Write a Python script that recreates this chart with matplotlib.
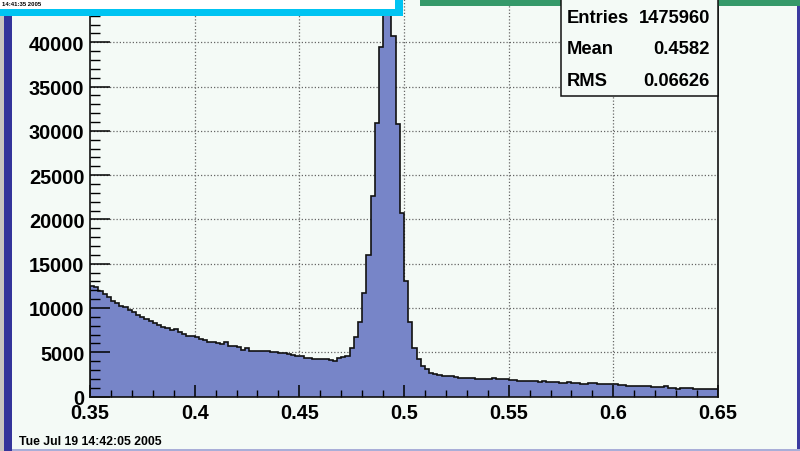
import numpy as np
import matplotlib
matplotlib.use("Agg")
import matplotlib.pyplot as plt
from matplotlib.patches import Rectangle
from matplotlib.ticker import MultipleLocator, FixedLocator, FixedFormatter

# ---------------- data ----------------
x_min, x_max, n_bins = 0.35, 0.65, 150
counts = [
    12460, 12350, 11960, 11590, 11220, 10840, 10575, 10270, 10160, 9820,
    9550, 9250, 8960, 8770, 8510, 8320, 8090, 7830, 7750, 7560,
    7640, 7340, 7080, 6880, 6820, 6700, 6510, 6400, 6210,
    6150, 6070, 5950, 6100, 5750, 5690, 5575, 5300, 5460, 5190,
    5190, 5170, 5120, 5110, 4990, 4970, 4950, 4900, 4800, 4710,
    4560, 4550, 4400, 4300, 4290, 4280, 4250, 4180, 4150, 4050,
    4350, 4450, 4630,
    5460, 6700, 8400, 11670, 16030, 22620, 30930, 39430,
    52500, 53500,
    40750, 30780, 20730, 13090, 8400, 5460, 4250,
    3430, 3050, 2670, 2530, 2390, 2370, 2350, 2270, 2250, 2130,
    2110, 2110, 2100, 2010, 2000, 1990, 1920, 2080, 1940, 1930,
    1920, 1910, 1900, 1790, 1780, 1770, 1760, 1750, 1630, 1770,
    1670, 1660, 1650, 1560, 1550,
    1620, 1560, 1550, 1410, 1400, 1510, 1500, 1410, 1400, 1400,
    1390, 1380, 1350, 1250, 1240, 1240, 1230, 1140, 1130, 1130,
    1120, 1120, 1060, 1130, 990, 980, 835, 960, 950, 940,
    850, 840, 840, 835, 830, 830,
]
x_ticks = [0.35, 0.40, 0.45, 0.50, 0.55, 0.60, 0.65]
x_tick_labels = ["0.35", "0.4", "0.45", "0.5", "0.55", "0.6", "0.65"]
y_ticks = [0, 5000, 10000, 15000, 20000, 25000, 30000, 35000, 40000]
y_tick_labels = ["0", "5000", "10000", "15000", "20000", "25000", "30000", "35000", "40000"]
stats_names = ["Entries", "Mean", "RMS"]
stats_values = ["1475960", "0.4582", "0.06626"]
date_text = "Tue Jul 19 14:42:05 2005"
old_date_text = "14:41:35 2005"

# ---------------- style ----------------
W, H = 800, 452
bg = "#f4faf6"
fill_col = "#7785c8"
font = "Liberation Sans"

fig = plt.figure(figsize=(W / 100, H / 100), dpi=100, facecolor=bg)

def fx(px):
    return px / W

def fy(py):
    return 1 - py / H

# axes: x from 90 to 718 px, y=0 at 397.5 px, 8.855 px per 1000 counts
y_top_val = 56000
ax_left, ax_right, ax_bottom_px = 90, 718, 397.5
ax_h_px = y_top_val * 8.855 / 1000
ax = fig.add_axes([fx(ax_left), fy(ax_bottom_px), (ax_right - ax_left) / W, ax_h_px / H])
ax.set_facecolor(bg)

edges = np.linspace(x_min, x_max, n_bins + 1)
ax.stairs(counts, edges, fill=True, facecolor=fill_col, edgecolor="none", zorder=1)
ax.stairs(counts, edges, fill=False, color="#111111", linewidth=1.2, zorder=1.2)

ax.set_xlim(x_min, x_max)
ax.set_ylim(0, y_top_val)

# grid (behind histogram)
for xv in x_ticks[1:-1]:
    ax.axvline(xv, color="#666666", linestyle=(0, (1, 1.6)), linewidth=0.9, zorder=0.5)
for yv in y_ticks[1:]:
    ax.axhline(yv, color="#666666", linestyle=(0, (1, 1.6)), linewidth=0.9, zorder=0.5)

ax.xaxis.set_major_locator(FixedLocator(x_ticks))
ax.xaxis.set_major_formatter(FixedFormatter(x_tick_labels))
ax.xaxis.set_minor_locator(MultipleLocator(0.01))
ax.yaxis.set_major_locator(FixedLocator(y_ticks))
ax.yaxis.set_major_formatter(FixedFormatter(y_tick_labels))
ax.yaxis.set_minor_locator(MultipleLocator(1000))

ax.tick_params(axis="x", which="major", direction="in", length=9, width=1.1, pad=5,
               labelsize=14.3, top=False)
ax.tick_params(axis="x", which="minor", direction="in", length=4.7, width=1.0, top=False)
ax.tick_params(axis="y", which="major", direction="in", length=14.4, width=1.1, pad=4,
               labelsize=14.3, right=False)
ax.tick_params(axis="y", which="minor", direction="in", length=7.2, width=1.0, right=False)
for lab in ax.get_xticklabels() + ax.get_yticklabels():
    lab.set_fontfamily(font)
    lab.set_fontweight("bold")
for s in ax.spines.values():
    s.set_linewidth(1.2)
    s.set_color("#111111")

# ---------------- canvas decorations ----------------
def rect(x0, y0, x1, y1, color, z=5, **kw):
    r = Rectangle((fx(x0), fy(y1)), fx(x1) - fx(x0), fy(y0) - fy(y1), transform=fig.transFigure,
                  facecolor=color, edgecolor="none", zorder=z, **kw)
    fig.add_artist(r)
    return r

# left frame
rect(0, 0, 4, H, "#c9c5bf")
rect(4, 17, 12, H, "#34349a")
# bottom lavender line
rect(12, 449.5, W, H, "#a9aed8")
# right blue edge
rect(797, 7, W, 449.5, "#3b3ba0")
# top cyan box (other pad)
rect(0, 0, 403, 17, "#00c4f2")
rect(0, 0, 395, 10, "#ffffff", z=5.1)
fig.text(fx(2), fy(4.8), old_date_text, fontsize=4.3, fontfamily=font, fontweight="bold",
         ha="left", va="center", zorder=6)
# top green bar
rect(420, 0, W, 6.7, "#35996a")

# stats box
sb = Rectangle((fx(561), fy(97)), fx(718) - fx(561), fy(-20) - fy(97), transform=fig.transFigure,
               facecolor=bg, edgecolor="#111111", linewidth=1.1, zorder=5)
fig.add_artist(sb)
rows_y = [18.5, 50, 81.5]
for name, val, ry in zip(stats_names, stats_values, rows_y):
    fig.text(fx(567), fy(ry), name, fontsize=13.2, fontfamily=font, fontweight="bold",
             ha="left", va="center", zorder=6)
    fig.text(fx(710), fy(ry), val, fontsize=13.2, fontfamily=font, fontweight="bold",
             ha="right", va="center", zorder=6)

# date
fig.text(fx(19), fy(442), date_text, fontsize=8.8, fontfamily=font, fontweight="bold",
         ha="left", va="center", zorder=6)

fig.savefig("out.png", dpi=100, facecolor=bg)
